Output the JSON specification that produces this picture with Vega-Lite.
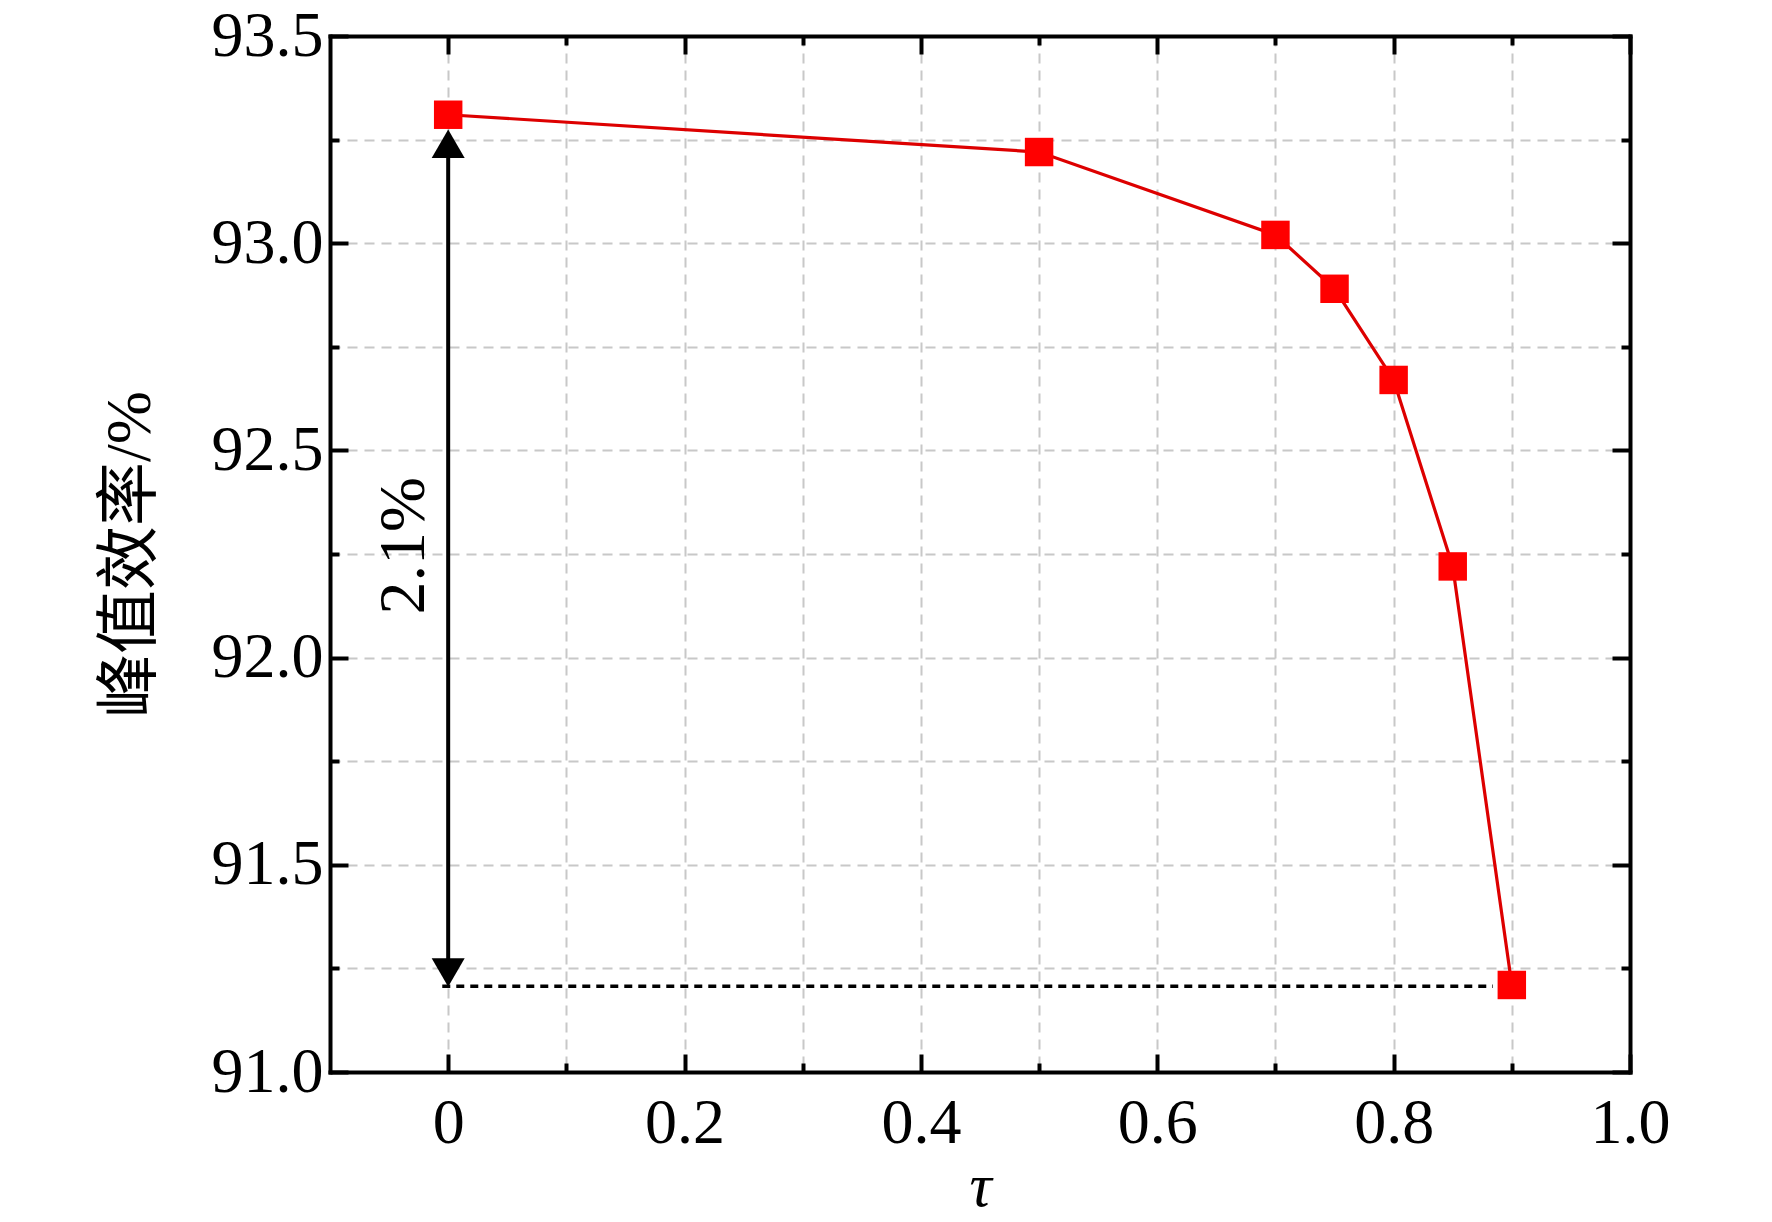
{
  "$schema": "https://vega.github.io/schema/vega-lite/v6.json",
  "width": 1300,
  "height": 1036,
  "autosize": {"type": "none"},
  "padding": {"left": 330, "top": 36, "right": 142, "bottom": 150},
  "background": "white",
  "datasets": {
    "curve": [
      {"tau": 0, "eff": 93.31},
      {"tau": 0.5, "eff": 93.22},
      {"tau": 0.7, "eff": 93.02},
      {"tau": 0.75, "eff": 92.89},
      {"tau": 0.8, "eff": 92.67},
      {"tau": 0.85, "eff": 92.22},
      {"tau": 0.9, "eff": 91.21}
    ],
    "arrow": [{"tau": 0, "top": 93.24, "bottom": 91.24}],
    "heads": [
      {"tau": 0, "eff": 93.24, "dir": "up"},
      {"tau": 0, "eff": 91.24, "dir": "down"}
    ],
    "dotted": [{"start": -0.005, "end": 0.884, "eff": 91.207}],
    "note": [{"tau": -0.037, "eff": 92.27, "text": "2.1%"}]
  },
  "layer": [
    {
      "data": {"name": "curve"},
      "mark": {"type": "line", "color": "#dd0000", "strokeWidth": 3.2},
      "encoding": {
        "x": {
          "field": "tau", "type": "quantitative",
          "scale": {"domain": [-0.1, 1.0], "nice": false, "zero": false},
          "axis": {
            "orient": "bottom",
            "values": [0, 0.2, 0.4, 0.6, 0.8, 1.0],
            "tickSize": -18,
            "grid": true,
            "labelExpr": "datum.value == 0 ? '0' : format(datum.value, '.1f')",
            "labelBaseline": "alphabetic",
            "labelPadding": 88,
            "title": "τ",
            "titleFont": "Liberation Serif",
            "titleFontStyle": "italic",
            "titleFontSize": 62,
            "titleX": 650,
            "titleY": 133,
            "titleBaseline": "alphabetic"
          }
        },
        "y": {
          "field": "eff", "type": "quantitative",
          "scale": {"domain": [91, 93.5], "nice": false, "zero": false},
          "axis": {
            "orient": "left",
            "values": [91, 91.5, 92, 92.5, 93, 93.5],
            "format": ".1f",
            "tickSize": -18,
            "grid": true,
            "labelBaseline": "middle",
            "labelPadding": 25,
            "title": "峰值效率/%",
            "titleFont": "Liberation Serif, Noto Sans CJK SC",
            "titleFontSize": 64,
            "titleAngle": 270,
            "titleAlign": "center",
            "titleBaseline": "middle",
            "titleX": -200,
            "titleY": 518
          }
        }
      }
    },
    {
      "data": {"name": "curve"},
      "mark": {"type": "point", "shape": "square", "filled": true, "color": "#ff0000", "opacity": 1, "size": 810},
      "encoding": {
        "x": {
          "field": "tau", "type": "quantitative",
          "scale": {"domain": [-0.1, 1.0], "nice": false, "zero": false},
          "axis": {
            "orient": "bottom",
            "values": [0.1, 0.3, 0.5, 0.7, 0.9],
            "tickSize": -9,
            "grid": true,
            "domain": false,
            "labels": false,
            "title": null
          }
        },
        "y": {
          "field": "eff", "type": "quantitative",
          "scale": {"domain": [91, 93.5], "nice": false, "zero": false},
          "axis": {
            "orient": "left",
            "values": [91.25, 91.75, 92.25, 92.75, 93.25],
            "tickSize": -9,
            "grid": true,
            "domain": false,
            "labels": false,
            "title": null
          }
        }
      }
    },
    {
      "data": {"name": "arrow"},
      "mark": {"type": "rule", "color": "black", "strokeWidth": 4},
      "encoding": {
        "x": {
          "field": "tau", "type": "quantitative",
          "scale": {"domain": [-0.1, 1.0], "nice": false, "zero": false},
          "axis": {
            "orient": "top",
            "values": [0, 0.2, 0.4, 0.6, 0.8, 1.0],
            "tickSize": -18,
            "grid": false,
            "labels": false,
            "title": null
          }
        },
        "y": {
          "field": "top", "type": "quantitative",
          "scale": {"domain": [91, 93.5], "nice": false, "zero": false},
          "axis": {
            "orient": "right",
            "values": [91, 91.5, 92, 92.5, 93, 93.5],
            "tickSize": -18,
            "grid": false,
            "labels": false,
            "title": null
          }
        },
        "y2": {"field": "bottom"}
      }
    },
    {
      "data": {"name": "heads"},
      "mark": {"type": "point", "filled": true, "color": "black", "opacity": 1, "size": 1089},
      "encoding": {
        "x": {
          "field": "tau", "type": "quantitative",
          "scale": {"domain": [-0.1, 1.0], "nice": false, "zero": false},
          "axis": {
            "orient": "top",
            "values": [0.1, 0.3, 0.5, 0.7, 0.9],
            "tickSize": -9,
            "grid": false,
            "domain": false,
            "labels": false,
            "title": null
          }
        },
        "y": {
          "field": "eff", "type": "quantitative",
          "scale": {"domain": [91, 93.5], "nice": false, "zero": false},
          "axis": {
            "orient": "right",
            "values": [91.25, 91.75, 92.25, 92.75, 93.25],
            "tickSize": -9,
            "grid": false,
            "domain": false,
            "labels": false,
            "title": null
          }
        },
        "shape": {
          "field": "dir", "type": "nominal",
          "scale": {"domain": ["up", "down"], "range": ["triangle-up", "triangle-down"]},
          "legend": null
        }
      }
    },
    {
      "data": {"name": "dotted"},
      "mark": {"type": "rule", "color": "black", "strokeWidth": 3.5, "strokeDash": [8, 6]},
      "encoding": {
        "x": {"field": "start", "type": "quantitative", "scale": {"domain": [-0.1, 1.0], "nice": false, "zero": false}, "axis": null},
        "x2": {"field": "end"},
        "y": {"field": "eff", "type": "quantitative", "scale": {"domain": [91, 93.5], "nice": false, "zero": false}, "axis": null}
      }
    },
    {
      "data": {"name": "note"},
      "mark": {"type": "text", "angle": 270, "align": "center", "baseline": "middle", "font": "Liberation Serif", "fontSize": 66, "color": "black"},
      "encoding": {
        "x": {"field": "tau", "type": "quantitative", "scale": {"domain": [-0.1, 1.0], "nice": false, "zero": false}, "axis": null},
        "y": {"field": "eff", "type": "quantitative", "scale": {"domain": [91, 93.5], "nice": false, "zero": false}, "axis": null},
        "text": {"field": "text"}
      }
    }
  ],
  "resolve": {"axis": {"x": "independent", "y": "independent"}},
  "config": {
    "view": {"stroke": null},
    "axis": {
      "domainColor": "black",
      "domainWidth": 4,
      "domainCap": "square",
      "tickColor": "black",
      "tickWidth": 4,
      "gridColor": "#c8c8c8",
      "gridDash": [10, 7],
      "gridWidth": 2,
      "labelFont": "Liberation Serif",
      "labelFontSize": 64,
      "labelColor": "black",
      "labelFlush": false,
      "labelOverlap": false,
      "labelBound": false,
      "titleColor": "black",
      "titleFontWeight": "normal"
    }
  }
}
